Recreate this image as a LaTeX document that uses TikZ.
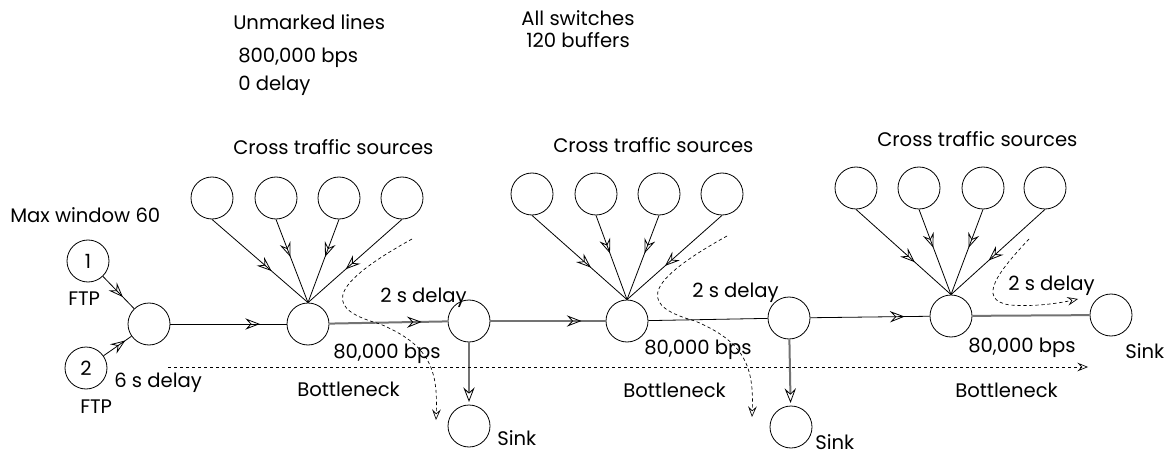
\documentclass[tikz,border=0pt]{standalone}
\usepackage{fontspec}
\setmainfont{Poppins}
\usetikzlibrary{arrows.meta,decorations.markings}

\tikzset{
  x=0.75pt, y=-0.75pt,
  every node/.style={font=\fontsize{14.7}{17}\selectfont},
  hub/.style={circle,draw,line width=0.6pt,minimum size=31.5pt,inner sep=0pt},
  lbl/.style={anchor=base west,inner sep=0pt},
  opentip/.tip={Stealth[open,length=11pt,width=8.5pt,inset=4pt,line width=0.6pt,color=black]},
  flowtip/.tip={Stealth[open,length=8pt,width=6.5pt,inset=3pt,line width=0.5pt,color=black]},
  link/.style={line width=0.6pt},
  slowlink/.style={line width=1.5pt,draw=black!55},
  midarrow/.style={postaction={decorate},
    decoration={markings,mark=at position #1 with {\arrow{opentip}}}},
  flow/.style={line width=0.5pt,dash pattern=on 2.5pt off 2pt,-flowtip},
}

\begin{document}
\begin{tikzpicture}
\useasboundingbox (0,0) rectangle (1171,456);

% legend
\node[lbl] (t1) at (233,30) {Unmarked lines};
\node[lbl] (t2) at (238,63) {800,000 bps};
\node[lbl] (t3) at (238,91) {0 delay};
\node[anchor=base,inner sep=0pt] (t4) at (578,26) {All switches};
\node[anchor=base,inner sep=0pt] (t5) at (578,48) {120 buffers};

% FTP sources
\node[lbl] (mw) at (10,223) {Max window 60};
\node[hub] (n1) at (88,261) {1};
\node[hub] (n2) at (86,368) {2};
\node[lbl] (f1) at (68,305) {FTP};
\node[lbl] (f2) at (80,413) {FTP};
\node[lbl] (d6) at (114,387) {6 s delay};

% switches and sinks
\node[hub] (A)  at (149,324) {};
\node[hub] (S1) at (308,324) {};
\node[hub] (B)  at (469,321) {};
\node[hub] (K1) at (469,426) {};
\node[hub] (S2) at (627,321) {};
\node[hub] (C)  at (789,318) {};
\node[hub] (K2) at (791,427) {};
\node[hub] (S3) at (951,316) {};
\node[hub] (K3) at (1111,315) {};

% cross traffic sources
\foreach \i/\x in {1/212,2/276,3/339,4/402} \node[hub] (a\i) at (\x,198) {};
\foreach \i/\x in {1/532,2/596,3/659,4/722} \node[hub] (b\i) at (\x,194) {};
\foreach \i/\x in {1/856,2/919,3/983,4/1045} \node[hub] (c\i) at (\x,188) {};

\node[lbl] (x1) at (233,155) {Cross traffic sources};
\node[lbl] (x2) at (553,153) {Cross traffic sources};
\node[lbl] (x3) at (877,147) {Cross traffic sources};

% link labels
\node[lbl] (d1) at (380,302) {2 s delay};
\node[lbl] (d2) at (692,297) {2 s delay};
\node[lbl] (d3) at (1008,290) {2 s delay};
\node[lbl] (r1) at (333,358) {80,000 bps};
\node[lbl] (r2) at (644,354) {80,000 bps};
\node[lbl] (r3) at (968,352) {80,000 bps};
\node[lbl] (bn1) at (297,396) {Bottleneck};
\node[lbl] (bn2) at (623,397) {Bottleneck};
\node[lbl] (bn3) at (955,397) {Bottleneck};
\node[lbl] (s1) at (497,445) {Sink};
\node[lbl] (s2) at (815,449) {Sink};
\node[lbl] (s3) at (1125,358) {Sink};

% links
\draw[link,midarrow=0.64] (n1) -- (A);
\draw[link,midarrow=0.78] (n2) -- (A);
\draw[link,midarrow=0.77] (A) -- (S1);
\draw[slowlink,midarrow=0.78] (S1) -- (B);
\draw[slowlink,midarrow=0.79] (B) -- (S2);
\draw[link] (S2) -- (C);
\draw[link,midarrow=0.79] (C) -- (S3);
\draw[slowlink] (S3) -- (K3);
\draw[slowlink,-opentip,shorten >=2pt] (B) -- (K1);
\draw[slowlink,-opentip,shorten >=2pt] (C) -- (K2);

\draw[link,midarrow=0.62] (a1.south) -- (S1.north);
\draw[link,midarrow=0.45] (a2.south) -- (S1.north);
\draw[link,midarrow=0.45] (a3.south) -- (S1.north);
\draw[link,midarrow=0.6]  (a4.south) -- (S1.north);
\draw[link,midarrow=0.62] (b1.south) -- (S2.north);
\draw[link,midarrow=0.45] (b2.south) -- (S2.north);
\draw[link,midarrow=0.45] (b3.south) -- (S2.north);
\draw[link,midarrow=0.6]  (b4.south) -- (S2.north);
\draw[link,midarrow=0.62] (c1.south) -- (S3.north);
\draw[link,midarrow=0.45] (c2.south) -- (S3.north);
\draw[link,midarrow=0.45] (c3.south) -- (S3.north);
\draw[link,midarrow=0.6]  (c4.south) -- (S3.north);

% FTP flow path
\coordinate (p0) at (168,367);
\coordinate (p1) at (1088,367);
\draw[flow] (p0) -- (p1);

% cross traffic flow paths
\draw[flow] (412,239) .. controls (320,290) and (330,310) .. (380,324)
            .. controls (430,345) and (438,370) .. (436,420);
\draw[flow] (727,236) .. controls (635,287) and (645,307) .. (695,321)
            .. controls (745,342) and (754,367) .. (752,417);
\draw[flow] (1029,239) .. controls (1000,270) and (975,300) .. (1010,305)
            .. controls (1035,307) and (1060,303) .. (1078,299);
\end{tikzpicture}
\end{document}
